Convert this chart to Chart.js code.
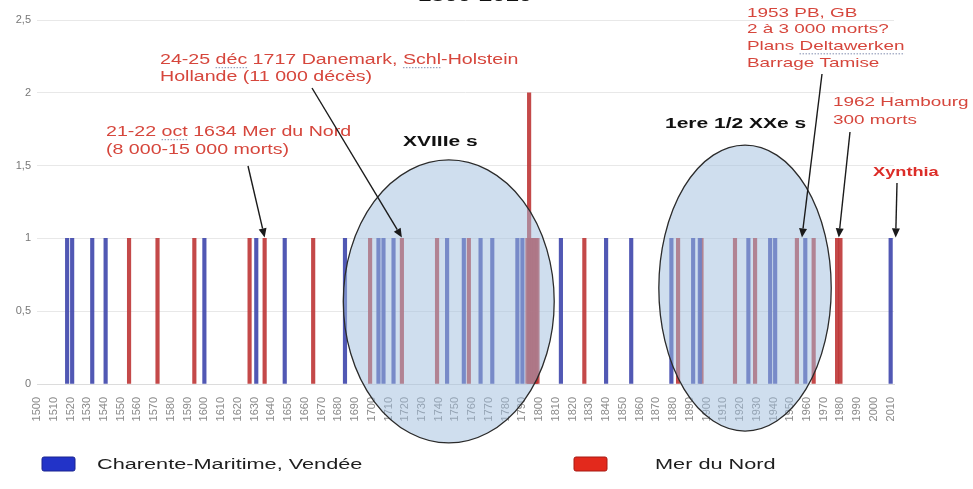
<!DOCTYPE html>
<html>
<head>
<meta charset="utf-8">
<script src="https://cdn.jsdelivr.net/npm/chart.js@4.4.0/dist/chart.umd.min.js"></script>
<style>
  html, body { margin: 0; padding: 0; background: #fff; overflow: hidden; }
  #box { position: relative; width: 973px; height: 489px; }
</style>
</head>
<body>
<div id="box"><canvas id="stormChart"></canvas></div>
<script>
// Tempêtes par année (1 = un événement, 2 = tempête majeure)
const blueYears = [1518, 1521, 1533, 1541, 1600, 1631, 1648, 1684, 1704, 1707, 1713, 1745, 1755, 1765,
  1772, 1787, 1790, 1813, 1840, 1855, 1879, 1892, 1896, 1925, 1938, 1941, 1959, 2010];
const blueValues = [1, 1, 1, 1, 1, 1, 1, 1, 1, 1, 1, 1, 1, 1,
  1, 1, 1, 1, 1, 1, 1, 1, 1, 1, 1, 1, 1, 1];

const redYears = [1555, 1572, 1594, 1627, 1636, 1665, 1699, 1718, 1739, 1758, 1793, 1794, 1795,
  1796, 1797, 1798, 1799, 1827, 1883, 1897, 1917, 1929, 1954, 1964, 1978, 1980];
const redValues = [1, 1, 1, 1, 1, 1, 1, 1, 1, 1, 1, 2, 1,
  1, 1, 1, 1, 1, 1, 1, 1, 1, 1, 1, 1, 1];

// x tick labels: every decade
const decadeTicks = [1500, 1510, 1520, 1530, 1540, 1550, 1560, 1570, 1580, 1590, 1600, 1610, 1620,
  1630, 1640, 1650, 1660, 1670, 1680, 1690, 1700, 1710, 1720, 1730, 1740, 1750, 1760, 1770,
  1780, 1790, 1800, 1810, 1820, 1830, 1840, 1850, 1860, 1870, 1880, 1890, 1900, 1910, 1920,
  1930, 1940, 1950, 1960, 1970, 1980, 1990, 2000, 2010];

const seriesLabels = ['Charente-Maritime, Vendée', 'Mer du Nord'];
const titleText = '1500-2010';

const xMin = 1500, xMax = 2012;
const yMin = 0, yMax = 2.5, yStep = 0.5;

// Periods circled on the chart (centre and radii in data units)
const periods = [
  { year: 1746, value: 0.567, rYears: 63, rValue: 0.972 },
  { year: 1923, value: 0.659, rYears: 51.5, rValue: 0.982 }
];

const STRETCH = 1.4; // text in the picture is stretched horizontally
const RED_TXT = 'rgb(214,70,60)';
const FONT = "'Liberation Sans', Arial, sans-serif";

// marked: [line index, word] with a dotted underline
const notes = [
  { lines: ['24-25 déc 1717 Danemark, Schl-Holstein', 'Hollande (11 000 décès)'], x: 160, y: 60, lh: 17, color: RED_TXT, size: 14, font: '14px ' + FONT, marked: [[0, 'déc'], [0, 'Schl']] },
  { lines: ['21-22 oct 1634 Mer du Nord', '(8 000-15 000 morts)'], x: 106, y: 132, lh: 18, color: RED_TXT, size: 14, font: '14px ' + FONT, marked: [[0, 'oct']] },
  { lines: ['1953 PB, GB', '2 à 3 000 morts?', 'Plans Deltawerken', 'Barrage Tamise'], x: 747, y: 13, lh: 16.7, color: RED_TXT, size: 13.5, font: '13.5px ' + FONT, marked: [[2, 'Deltawerken']] },
  { lines: ['1962 Hambourg', '300 morts'], x: 833, y: 102, lh: 18, color: RED_TXT, size: 13.5, font: '13.5px ' + FONT },
  { lines: ['XVIIIe s'], x: 403, y: 142, lh: 18, color: '#111', size: 15, font: 'bold 15px ' + FONT },
  { lines: ['1ere 1/2 XXe s'], x: 665, y: 124, lh: 18, color: '#111', size: 15, font: 'bold 15px ' + FONT },
  { lines: ['Xynthia'], x: 873, y: 172, lh: 18, color: 'rgb(220,45,40)', size: 13, font: 'bold 13px ' + FONT }
];

// Arrows: start in pixels, head on a bar top (data units)
const arrows = [
  { from: [248, 166], year: 1636, value: 1 },
  { from: [312, 88], year: 1718, value: 1 },
  { from: [822, 74], year: 1957, value: 1 },
  { from: [850, 132], year: 1979, value: 1 },
  { from: [897, 183], year: 2013, value: 1 }
];

function toPoints(years, values) {
  return years.map((yr, i) => ({ x: yr, y: values[i] }));
}

function stretchedText(ctx, txt, x, y, font, color, align) {
  ctx.save();
  ctx.font = font;
  ctx.fillStyle = color;
  ctx.textBaseline = 'middle';
  ctx.textAlign = align || 'left';
  ctx.translate(x, y);
  ctx.scale(STRETCH, 1);
  ctx.fillText(txt, 0, 0);
  ctx.restore();
}

// dotted "spell-check" underline under a word of a line
function markWord(ctx, line, word, x, y, font, size) {
  const idx = line.indexOf(word);
  if (idx < 0) return;
  ctx.save();
  ctx.font = font;
  const x0 = x + ctx.measureText(line.slice(0, idx)).width * STRETCH;
  const w = ctx.measureText(word).width * STRETCH;
  ctx.strokeStyle = 'rgba(90,105,150,0.75)';
  ctx.lineWidth = 1;
  ctx.setLineDash([1.5, 1.5]);
  ctx.beginPath();
  ctx.moveTo(x0, y + size * 0.55);
  ctx.lineTo(x0 + w, y + size * 0.55);
  ctx.stroke();
  ctx.restore();
}

function drawArrow(ctx, x1, y1, x2, y2) {
  const ang = Math.atan2(y2 - y1, x2 - x1);
  const len = 9, half = 4;
  ctx.save();
  ctx.strokeStyle = '#1a1a1a';
  ctx.fillStyle = '#1a1a1a';
  ctx.lineWidth = 1.4;
  ctx.beginPath();
  ctx.moveTo(x1, y1);
  ctx.lineTo(x2 - len * Math.cos(ang), y2 - len * Math.sin(ang));
  ctx.stroke();
  ctx.beginPath();
  ctx.moveTo(x2, y2);
  ctx.lineTo(x2 - len * Math.cos(ang) + half * Math.sin(ang), y2 - len * Math.sin(ang) - half * Math.cos(ang));
  ctx.lineTo(x2 - len * Math.cos(ang) - half * Math.sin(ang), y2 - len * Math.sin(ang) + half * Math.cos(ang));
  ctx.closePath();
  ctx.fill();
  ctx.restore();
}

const overlayPlugin = {
  id: 'overlay',
  afterDatasetsDraw(chart) {
    const { ctx, scales: { x, y } } = chart;
    periods.forEach(p => {
      const cx = x.getPixelForValue(p.year);
      const cy = y.getPixelForValue(p.value);
      const rx = Math.abs(x.getPixelForValue(p.year + p.rYears) - cx);
      const ry = Math.abs(y.getPixelForValue(p.value + p.rValue) - cy);
      ctx.save();
      ctx.beginPath();
      ctx.ellipse(cx, cy, rx, ry, 0, 0, Math.PI * 2);
      ctx.fillStyle = 'rgba(160,190,222,0.5)';
      ctx.fill();
      ctx.lineWidth = 1.3;
      ctx.strokeStyle = '#2b2b2b';
      ctx.stroke();
      ctx.restore();
    });
  },
  afterDraw(chart) {
    const { ctx, scales: { x, y } } = chart;

    // title, cut by the top edge
    ctx.save();
    ctx.font = 'bold 17px ' + FONT;
    ctx.fillStyle = '#111';
    ctx.textAlign = 'center';
    ctx.textBaseline = 'alphabetic';
    ctx.translate(475, 1);
    ctx.scale(STRETCH, 1);
    ctx.fillText(titleText, 0, 0);
    ctx.restore();

    notes.forEach(n => {
      n.lines.forEach((line, i) => {
        stretchedText(ctx, line, n.x, n.y + i * n.lh, n.font, n.color);
      });
      (n.marked || []).forEach(([li, w]) => {
        markWord(ctx, n.lines[li], w, n.x, n.y + li * n.lh, n.font, n.size);
      });
    });

    arrows.forEach(a => {
      drawArrow(ctx, a.from[0], a.from[1], x.getPixelForValue(a.year), y.getPixelForValue(a.value) - 1);
    });

    // legend
    const items = [
      { box: 42, text: 97, fill: '#2233c8', edge: '#1a2590', label: seriesLabels[0] },
      { box: 574, text: 655, fill: '#e3291c', edge: '#a81a12', label: seriesLabels[1] }
    ];
    items.forEach(it => {
      ctx.save();
      ctx.fillStyle = it.fill;
      ctx.strokeStyle = it.edge;
      ctx.lineWidth = 1;
      ctx.beginPath();
      ctx.roundRect(it.box, 457, 33, 14, 2);
      ctx.fill();
      ctx.stroke();
      ctx.restore();
      stretchedText(ctx, it.label, it.text, 465, '15.5px ' + FONT, '#1e1e1e');
    });
  }
};

new Chart(document.getElementById('stormChart'), {
  type: 'bar',
  data: {
    datasets: [
      {
        label: seriesLabels[0],
        data: toPoints(blueYears, blueValues),
        backgroundColor: 'rgba(62,70,172,0.9)',
        barThickness: 3.5,
        grouped: false
      },
      {
        label: seriesLabels[1],
        data: toPoints(redYears, redValues),
        backgroundColor: 'rgba(188,48,48,0.88)',
        barThickness: 3.5,
        grouped: false
      }
    ]
  },
  options: {
    responsive: true,
    maintainAspectRatio: false,
    animation: false,
    layout: { padding: { top: 20, right: 79, left: 0, bottom: 0 } },
    plugins: {
      legend: { display: false },
      tooltip: { enabled: false }
    },
    scales: {
      x: {
        type: 'linear',
        offset: false,
        min: xMin,
        max: xMax,
        grid: { display: false },
        border: { display: true, color: '#dcdcdc' },
        afterBuildTicks: scale => {
          scale.ticks = decadeTicks.map(v => ({ value: v }));
        },
        ticks: {
          autoSkip: false,
          minRotation: 90,
          maxRotation: 90,
          padding: 5,
          color: '#8a8a8a',
          font: { size: 11, family: FONT },
          callback: v => String(v)
        },
        afterFit: scale => {
          scale.height = 105;
          scale.paddingLeft = 0;
          scale.paddingRight = 0;
        }
      },
      y: {
        min: yMin,
        max: yMax,
        grid: { color: '#e8e8e8', drawTicks: false },
        border: { display: false },
        ticks: {
          stepSize: yStep,
          padding: 6,
          color: '#777',
          font: { size: 11, family: FONT },
          callback: v => String(v).replace('.', ',')
        },
        afterFit: scale => { scale.width = 37; }
      }
    }
  },
  plugins: [overlayPlugin]
});
</script>
</body>
</html>
